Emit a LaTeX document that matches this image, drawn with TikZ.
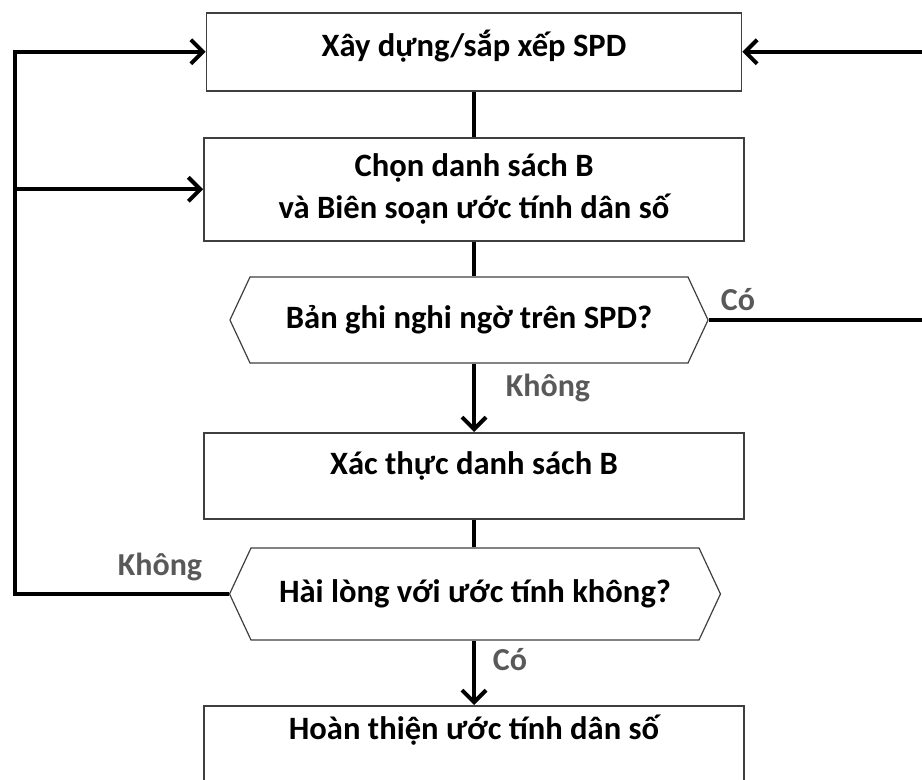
\documentclass[tikz,border=0pt]{standalone}
\usepackage{fontspec}
\setmainfont{Carlito}
\definecolor{boxgray}{HTML}{3F3F3F}
\definecolor{labelgray}{HTML}{595959}
\usetikzlibrary{positioning,shapes.symbols,arrows.meta}

\begin{document}
\begin{tikzpicture}[
    x=0.5pt, y=-0.5pt,
    stepbox/.style={rectangle,draw=boxgray,line width=0.8pt,minimum width=270pt,
      inner sep=0pt,align=center,font=\fontsize{16.3}{21}\selectfont\bfseries},
    query/.style={signal,signal to=west and east,signal pointer angle=130,
      draw=boxgray,line width=0.6pt,minimum height=43pt,inner sep=0pt,
      font=\fontsize{16.3}{21}\selectfont\bfseries},
    link/.style={line width=2pt},
    flow/.style={link,-{Straight Barb[length=6pt,width=12pt]}},
    tag/.style={text=labelgray,font=\fontsize{16}{18}\selectfont\bfseries}
  ]
    \useasboundingbox (0,0) rectangle (922,780);
    % Steps
    \node[stepbox,anchor=north,minimum width=267.5pt,text height=22pt,text depth=17pt]
      (build) at (474,12) {Xây dựng/sắp xếp SPD};
    \node[stepbox,anchor=north,minimum height=51.5pt]
      (pick) at (474,137) {Chọn danh sách B\\và Biên soạn ước tính dân số};
    \node[query] (check1) at (469,320)
      {\makebox[219pt]{Bản ghi nghi ngờ trên SPD?}};
    \node[stepbox,anchor=north,text height=21pt,text depth=22pt]
      (verify) at (474,432) {Xác thực danh sách B};
    \node[query,minimum height=46pt] (check2) at (475,594)
      {\makebox[224pt]{Hài lòng với ước tính không?}};
    \node[stepbox,anchor=north,text height=17pt,text depth=31pt]
      (final) at (474,705) {Hoàn thiện ước tính dân số};
    % Side rails
    \coordinate (railL) at (15,0);
    \coordinate (railR) at (935,0);
    % Main flow
    \draw[link] (build.south) -- (build.south |- pick.north);
    \draw[link] (pick.south) -- (pick.south |- check1.north);
    \draw[flow] (pick.south |- check1.south) -- (verify.north);
    \draw[link] (verify.south) -- (verify.south |- check2.north);
    \draw[flow] (verify.south |- check2.south) -- (final.north);
    % Loops
    \draw[flow] (check2.west) -- (check2.west -| railL) |- (build.west);
    \draw[flow] (railL |- pick.west) -- (pick.west);
    \draw[flow] (check1.east) -- (check1.east -| railR) |- (build.east);
    % Labels
    \node[tag] (yes1) at (738,300) {Có};
    \node[tag] (no1) at (548,388) {Không};
    \node[tag] (no2) at (160,567) {Không};
    \node[tag] (yes2) at (510,660) {Có};
\end{tikzpicture}
\end{document}
